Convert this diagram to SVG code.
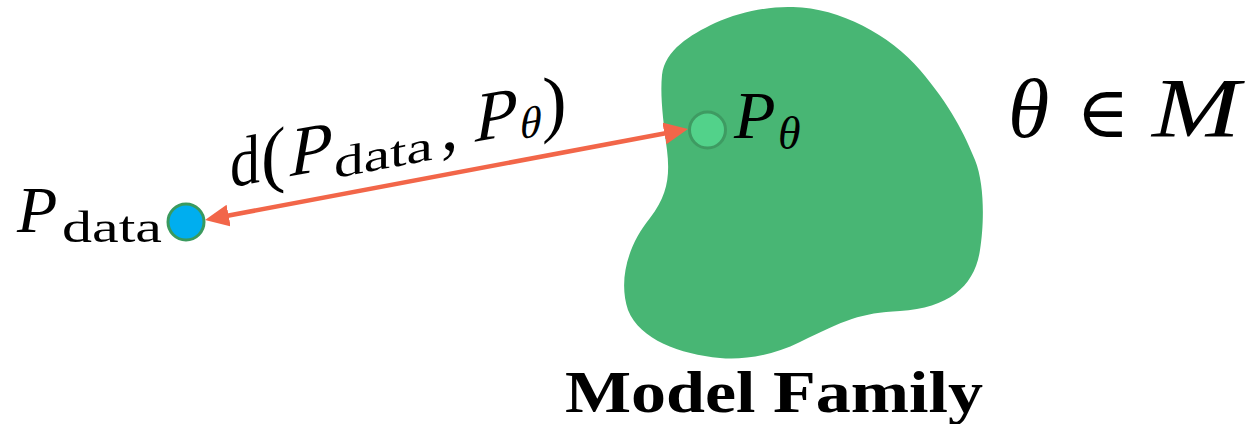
<svg xmlns="http://www.w3.org/2000/svg" width="1248" height="424" viewBox="0 0 1248 424">
  <style>
    .serif { font-family: "Liberation Serif", "DejaVu Serif", serif; fill: #000; }
    .it { font-style: italic; }
    .conn { stroke: #F26649; stroke-width: 4.5; fill: none; }
  </style>
  <defs>
    <marker id="head" markerUnits="userSpaceOnUse" markerWidth="24" markerHeight="22" refX="12" refY="11" orient="auto-start-reverse" viewBox="0 0 24 22">
      <path d="M0,0 L24,11 L0,22 Z" fill="#F26649"/>
    </marker>
  </defs>
  <rect width="1248" height="424" fill="#fff"/>

  <g id="model-family">
    <path d="M793,7 C840,8 890,35 920,70 C950,105 965,135 975,160 C985,185 984,225 980,250 C975,285 950,308 900,311 C860,313 845,320 800,342 C770,357 740,360 720,358 C680,354 640,340 628,310 C618,280 628,245 650,218 C668,195 670,175 667,150 C663,120 660,95 662,75 C665,50 690,35 715,23 C740,12 770,6 793,7 Z" fill="#48B674"/>
    <text class="serif" x="565" y="412" font-size="60" font-weight="bold" textLength="418" lengthAdjust="spacingAndGlyphs">Model Family</text>
  </g>

  <g id="connectors">
    <line class="conn" x1="216.8" y1="217.8" x2="676.2" y2="131.2" marker-start="url(#head)" marker-end="url(#head)"/>
    <g class="serif" transform="translate(230,187.6) skewY(-10.6)">
      <text x="0" y="0" font-size="70" textLength="30" lengthAdjust="spacingAndGlyphs">d</text>
      <text x="31" y="0" font-size="74">(</text>
      <text class="it" x="60" y="0" font-size="70">P</text>
      <text x="104" y="10" font-size="44" textLength="99" lengthAdjust="spacingAndGlyphs">data</text>
      <text x="211" y="3" font-size="70">,</text>
      <text class="it" x="245" y="0" font-size="70">P</text>
      <text class="it" x="290" y="6" font-size="44">θ</text>
      <text x="312" y="0" font-size="74">)</text>
    </g>
  </g>

  <g id="p-data">
    <circle cx="186" cy="222" r="18" fill="#00AEEF" stroke="#3A9A5E" stroke-width="3"/>
    <text class="serif" font-size="66"><tspan class="it" x="17" y="232">P</tspan><tspan x="62" y="242" font-size="44" textLength="100" lengthAdjust="spacingAndGlyphs">data</tspan></text>
  </g>

  <g id="p-theta">
    <circle cx="707.5" cy="130" r="18" fill="#52D28A" stroke="#3E9B62" stroke-width="3"/>
    <text class="serif it" font-size="68"><tspan x="734" y="138">P</tspan><tspan x="778" y="149" font-size="46">θ</tspan></text>
  </g>

  <g id="theta-in-m">
    <text class="serif" font-size="84"><tspan class="it" x="1008" y="137">θ</tspan><tspan x="1076" y="137" font-family="DejaVu Serif, serif" font-size="72">∈</tspan><tspan class="it" x="1152" y="137" textLength="88" lengthAdjust="spacingAndGlyphs">M</tspan></text>
  </g>
</svg>
